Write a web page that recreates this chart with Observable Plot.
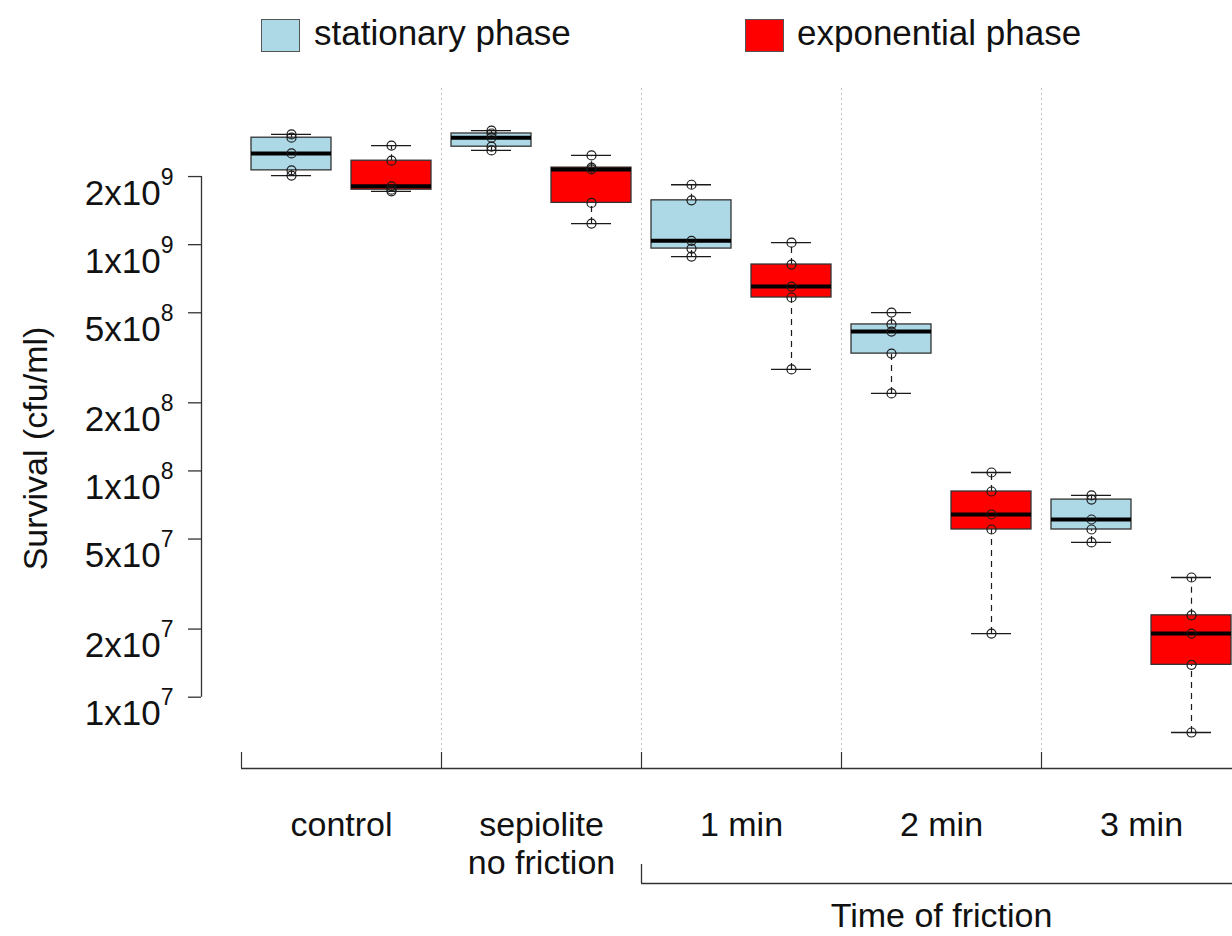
<!DOCTYPE html>
<html>
<head>
<meta charset="utf-8">
<script src="https://cdn.jsdelivr.net/npm/d3@7"></script>
<script src="https://cdn.jsdelivr.net/npm/@observablehq/plot@0.6"></script>
<style>
html, body { margin: 0; padding: 0; background: #fff; overflow: hidden; width: 1232px; height: 936px; }
body { font-family: "Liberation Sans", Arial, sans-serif; color: #111; }
#legend { position: relative; width: 1232px; height: 70px; }
#legend .sw { position: absolute; top: 19px; width: 37px; height: 31px; border: 1px solid #555; }
#legend .lb { position: absolute; top: 16px; font-size: 35px; line-height: 34px; white-space: nowrap; }
</style>
</head>
<body>
<div id="legend"></div>
<div id="chart"></div>
<script>
// ---- data ----
const groups = ["control", "sepiolite\nno friction", "1 min", "2 min", "3 min"];
const phases = ["stationary phase", "exponential phase"];
const phaseColors = ["#ADD8E6", "#FF0000"];
const stationary = [
  [3.07e9, 2.97e9, 2.53e9, 2.13e9, 2.02e9],
  [3.19e9, 3.10e9, 2.97e9, 2.71e9, 2.61e9],
  [1.84e9, 1.57e9, 1.04e9, 9.61e8, 8.86e8],
  [5.01e8, 4.44e8, 4.13e8, 3.30e8, 2.20e8],
  [7.79e7, 7.47e7, 6.10e7, 5.51e7, 4.83e7]
];
const exponential = [
  [2.74e9, 2.35e9, 1.81e9, 1.75e9, 1.72e9],
  [2.48e9, 2.19e9, 2.15e9, 1.53e9, 1.24e9],
  [1.02e9, 8.17e8, 6.53e8, 5.84e8, 2.81e8],
  [9.84e7, 8.11e7, 6.42e7, 5.51e7, 1.91e7],
  [3.38e7, 2.30e7, 1.91e7, 1.39e7, 6.98e6]
];
const yTicks = [1e7, 2e7, 5e7, 1e8, 2e8, 5e8, 1e9, 2e9];
const minuteGroups = ["1 min", "2 min", "3 min"];
const bracketLabel = "Time of friction";
const yLabel = "Survival (cfu/ml)";

// ---- derived ----
const W = 1232, H = 866, MT = 18, MB = 168, ML = 201;
const frameH = H - MT - MB;
const stats = [];
const points = [];
groups.forEach((g, gi) => {
  [stationary, exponential].forEach((series, pi) => {
    const vals = series[gi].slice().sort(d3.ascending);
    const pos = gi * 2 + 1 + pi;
    stats.push({
      pos, phase: phases[pi],
      min: vals[0], q1: d3.quantile(vals, 0.25), med: d3.median(vals),
      q3: d3.quantile(vals, 0.75), max: vals[vals.length - 1]
    });
    vals.forEach(v => points.push({pos, v}));
  });
});
const bounds = groups.map((_, i) => 2 * i + 0.5);
const dividers = bounds.slice(1);
const centers = groups.map((_, i) => 2 * i + 1.5);
const minuteStart = bounds[groups.indexOf(minuteGroups[0])];
const minuteCenter = d3.mean(minuteGroups.map(m => centers[groups.indexOf(m)]));
const xDomain = [0.1, 10.41];
const yDomain = [4.84e6, 4.9e9];
const half = 0.4, cap = 0.2;
const fmt = v => { const e = Math.floor(Math.log10(v) + 1e-9); return `${Math.round(v / 10 ** e)}x10^${e}`; };

// ---- legend ----
const legend = document.getElementById("legend");
const legendX = [[261, 314], [745, 797]];
phases.forEach((p, i) => {
  const sw = document.createElement("div");
  sw.className = "sw"; sw.style.left = legendX[i][0] + "px"; sw.style.background = phaseColors[i];
  const lb = document.createElement("div");
  lb.className = "lb"; lb.style.left = legendX[i][1] + "px"; lb.textContent = p;
  legend.append(sw, lb);
});

// ---- chart ----
const ink = "#1a1a1a";
const chart = Plot.plot({
  width: W, height: H,
  marginTop: MT, marginBottom: MB, marginLeft: ML, marginRight: 0,
  style: {fontFamily: '"Liberation Sans", Arial, sans-serif', fontSize: "34px", color: "#111", background: "#fff"},
  x: {domain: xDomain, axis: null},
  y: {type: "log", domain: yDomain, axis: null},
  color: {domain: phases, range: phaseColors},
  marks: [
    Plot.ruleX(dividers, {stroke: "#c4c4c4", strokeDasharray: "2,3", strokeWidth: 1}),
    Plot.ruleX(stats, {x: "pos", y1: "min", y2: "q1", stroke: ink, strokeDasharray: "6,5", strokeWidth: 1.2}),
    Plot.ruleX(stats, {x: "pos", y1: "q3", y2: "max", stroke: ink, strokeDasharray: "6,5", strokeWidth: 1.2}),
    Plot.ruleY(stats, {y: "min", x1: d => d.pos - cap, x2: d => d.pos + cap, stroke: ink, strokeWidth: 1.3}),
    Plot.ruleY(stats, {y: "max", x1: d => d.pos - cap, x2: d => d.pos + cap, stroke: ink, strokeWidth: 1.3}),
    Plot.rect(stats, {x1: d => d.pos - half, x2: d => d.pos + half, y1: "q1", y2: "q3", fill: "phase", stroke: "#333", strokeWidth: 1.3}),
    Plot.ruleY(stats, {y: "med", x1: d => d.pos - half, x2: d => d.pos + half, stroke: "#000", strokeWidth: 4}),
    Plot.dot(points, {x: "pos", y: "v", r: 4.5, stroke: ink, strokeWidth: 1.2, fill: "none"}),
    // y axis
    Plot.ruleX([xDomain[0]], {y1: yTicks[0], y2: yTicks[yTicks.length - 1], stroke: "#333", strokeWidth: 1.3}),
    Plot.axisY({ticks: yTicks, anchor: "left", tickSize: 13, tickFormat: () => "", stroke: "#333", strokeWidth: 1.3, label: null}),
    Plot.text(yTicks, {y: d => d, text: fmt, frameAnchor: "left", textAnchor: "end", dx: -28, dy: 17, fontSize: 35, fill: "#111"}),
    Plot.text([yLabel], {frameAnchor: "left", textAnchor: "middle", rotate: -90, dx: -165, dy: 20, fontSize: 34, fill: "#111"}),
    // x axis
    Plot.ruleY([yDomain[0]], {x1: bounds[0], x2: xDomain[1], stroke: "#333", strokeWidth: 1.5}),
    Plot.ruleX(bounds, {insetTop: frameH - 16, stroke: "#333", strokeWidth: 1.2}),
    Plot.text(groups, {x: (d, i) => centers[i], text: d => d, frameAnchor: "bottom", lineAnchor: "top", dy: 40, fontSize: 34, lineHeight: 1.13, fill: "#111"}),
    // bracket for time of friction
    Plot.ruleX([minuteStart], {insetTop: frameH - 19, dy: 115, stroke: "#333", strokeWidth: 1.3}),
    Plot.ruleY([yDomain[0]], {x1: minuteStart, x2: xDomain[1], dy: 115, stroke: "#333", strokeWidth: 1.3}),
    Plot.text([bracketLabel], {x: minuteCenter, frameAnchor: "bottom", lineAnchor: "top", dy: 134, fontSize: 34, fill: "#111"})
  ]
});

// superscript exponents in tick labels
chart.querySelectorAll("text").forEach(t => {
  if (!t.textContent.includes("^")) return;
  const [base, sup] = t.textContent.split("^");
  t.textContent = base;
  const ts = document.createElementNS("http://www.w3.org/2000/svg", "tspan");
  ts.setAttribute("font-size", "23");
  ts.setAttribute("dy", "-20");
  ts.textContent = sup;
  t.appendChild(ts);
});

document.getElementById("chart").append(chart);
</script>
</body>
</html>
